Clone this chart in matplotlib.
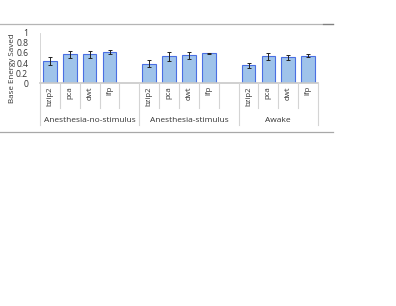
import matplotlib.pyplot as plt
from matplotlib.lines import Line2D

groups = ['Anesthesia-no-stimulus', 'Anesthesia-stimulus', 'Awake']
methods = ['bzip2', 'pca', 'dwt', 'lfp']
saved = [
    [0.44, 0.57, 0.57, 0.62],
    [0.39, 0.53, 0.55, 0.59],
    [0.36, 0.53, 0.51, 0.54],
]
errs = [
    [0.07, 0.065, 0.075, 0.035],
    [0.075, 0.09, 0.065, 0.01],
    [0.05, 0.06, 0.04, 0.03],
]
yticks = [0, 0.2, 0.4, 0.6, 0.8, 1]

W, H = 396, 306
fig = plt.figure(figsize=(W / 100, H / 100), dpi=100)
plt.rcParams['font.family'] = ['Open Sans', 'DejaVu Sans']


def fx(px):
    return px / W


def fy(py):
    return 1 - py / H


# plot area in pixels
x0, x1 = 40, 318
y_top, y_zero = 32.7, 83.3
ax = fig.add_axes([fx(x0), fy(y_zero), fx(x1 - x0), (y_zero - y_top) / H])

fill = '#9fc3ea'
edge = '#4a6fe3'
slot = 0
positions = []
for g, grp in enumerate(groups):
    for m, name in enumerate(methods):
        positions.append(slot)
        ax.bar(slot, saved[g][m], width=0.68, color=fill, edgecolor=edge, linewidth=0.8)
        ax.errorbar(slot, saved[g][m], yerr=errs[g][m], fmt='none', ecolor='#222222',
                    elinewidth=0.7, capsize=1.6, capthick=0.7)
        slot += 1
    slot += 1  # empty slot between groups

n_slots = 14
ax.set_xlim(-0.5, n_slots - 0.5)
ax.set_ylim(0, 1)
ax.set_yticks(yticks)
ax.set_yticklabels([f'{t:g}' for t in yticks], fontsize=6.2)
ax.tick_params(axis='y', length=0, pad=8.5, colors='#333333')
ax.set_xticks([])
for s in ['top', 'right', 'bottom']:
    ax.spines[s].set_visible(False)
ax.spines['left'].set_color('#d0d0d0')
ax.spines['left'].set_linewidth(0.6)
ax.axhline(0, color='#c8c8c8', linewidth=1.2, clip_on=False)

fig.text(fx(13), fy(68), 'Base Energy Saved', rotation=90, ha='center', va='center',
         fontsize=5.8, color='#333333')

# category axis: method labels, group labels and separators
tr = ax.get_xaxis_transform()


def ay(py):
    return (y_zero - py) / (y_zero - y_top)


sep_color = '#d4d4d4'
group_start = 0
for g, grp in enumerate(groups):
    n = len(methods) + (1 if g < len(groups) - 1 else 0)
    for k in range(n - 1):
        b = group_start + k + 0.5
        ax.plot([b, b], [0, ay(108)], transform=tr, color=sep_color, linewidth=0.8, clip_on=False)
    left = group_start - 0.5
    ax.plot([left, left], [0, ay(125)], transform=tr, color=sep_color, linewidth=0.8, clip_on=False)
    ax.text(group_start + (n - 1) / 2, ay(121), grp, transform=tr, ha='center', va='center',
            fontsize=6, color='#333333')
    group_start += n
right = group_start - 0.5
ax.plot([right, right], [0, ay(125)], transform=tr, color=sep_color, linewidth=0.8, clip_on=False)

for p, name in zip(positions, methods * len(groups)):
    ax.text(p, ay(86), name, transform=tr, rotation=90, ha='center', va='top',
            fontsize=5.6, color='#333333')

# chart frame lines
fig.add_artist(Line2D([0, fx(333)], [fy(24), fy(24)], color='#b5b5b5', linewidth=0.9))
fig.add_artist(Line2D([fx(323), fx(333)], [fy(24), fy(24)], color='#808080', linewidth=0.9))
fig.add_artist(Line2D([0, fx(333)], [fy(132), fy(132)], color='#a8a8a8', linewidth=0.9))

fig.savefig('out.png', dpi=100)
